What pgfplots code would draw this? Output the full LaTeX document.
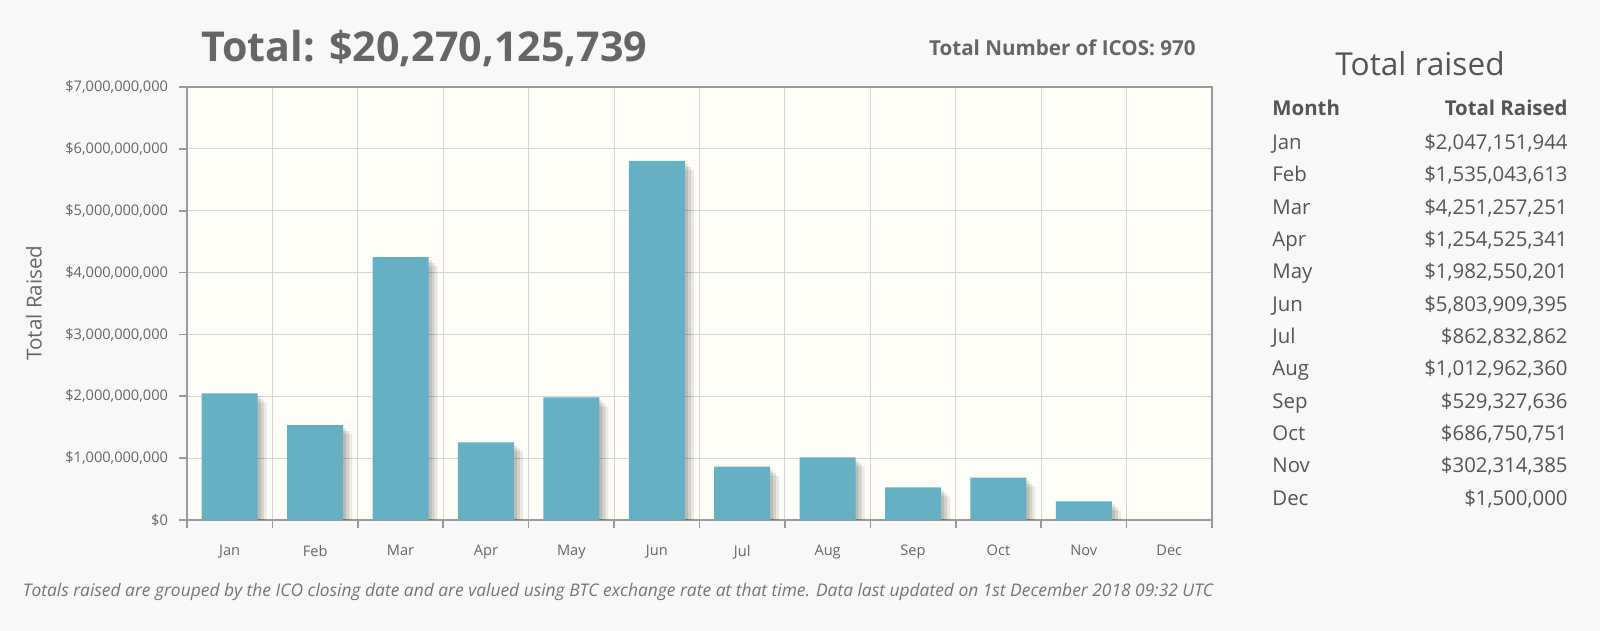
\documentclass[border=0pt]{standalone}
\usepackage{pgfplots}
\pgfplotsset{compat=1.18}
\usepackage{fontspec}
\setmainfont{Open Sans}
\definecolor{pagebg}{HTML}{F8F8F8}
\definecolor{plotbg}{HTML}{FEFDF8}
\definecolor{barc}{HTML}{66B0C4}
\definecolor{txt}{HTML}{666666}
\definecolor{tbl}{HTML}{555555}
\definecolor{gridc}{HTML}{D4D4D4}
\definecolor{axc}{HTML}{9A9A9A}
\begin{document}
\begin{tikzpicture}[x=1pt,y=1pt]
\fill[pagebg] (0,0) rectangle (800,315.5);
\useasboundingbox (0,0) rectangle (800,315.5);
\begin{axis}[
  at={(93.5pt,55.5pt)}, anchor=south west,
  scale only axis, width=512.5pt, height=216.5pt,
  xmin=-0.5, xmax=11.5, ymin=0, ymax=7000000000,
  axis background/.style={fill=plotbg},
  ybar, bar width=0.655,
  xtick={0,1,2,3,4,5,6,7,8,9,10,11},
  xticklabels={Jan,Feb,Mar,Apr,May,Jun,Jul,Aug,Sep,Oct,Nov,Dec},
  major x tick style={draw=none},
  minor xtick={-0.5,0.5,1.5,2.5,3.5,4.5,5.5,6.5,7.5,8.5,9.5,10.5,11.5},
  minor x tick style={axc, line width=0.8pt},
  minor tick length=4pt,
  xminorgrids,
  ytick={0,1000000000,2000000000,3000000000,4000000000,5000000000,6000000000,7000000000},
  yticklabels={\$0,{\$1,000,000,000},{\$2,000,000,000},{\$3,000,000,000},{\$4,000,000,000},{\$5,000,000,000},{\$6,000,000,000},{\$7,000,000,000}},
  ymajorgrids,
  major y tick style={axc, line width=0.8pt},
  major tick length=4pt,
  tick align=outside,
  tick pos=left,
  grid style={gridc, line width=0.55pt},
  axis line style={axc, line width=1.3pt},
  ticklabel style={font=\fontsize{7.3}{9}\selectfont, text=txt},
  xticklabel style={yshift=-5pt},
  yticklabel style={xshift=-2pt},
  scaled y ticks=false,
]
\addplot[fill=black, fill opacity=0.10, draw=none, bar shift=1.5pt, yshift=-1.5pt, forget plot]
 coordinates {
 (0,2047151944) (1,1535043613) (2,4251257251) (3,1254525341)
 (4,1982550201) (5,5803909395) (6,862832862) (7,1012962360)
 (8,529327636) (9,686750751) (10,302314385) (11,1500000)
 };
\addplot[fill=black, fill opacity=0.10, draw=none, bar shift=3pt, yshift=-3pt, forget plot]
 coordinates {
 (0,2047151944) (1,1535043613) (2,4251257251) (3,1254525341)
 (4,1982550201) (5,5803909395) (6,862832862) (7,1012962360)
 (8,529327636) (9,686750751) (10,302314385) (11,1500000)
 };
\addplot[fill=black, fill opacity=0.08, draw=none, bar shift=4.5pt, yshift=-4.5pt, forget plot]
 coordinates {
 (0,2047151944) (1,1535043613) (2,4251257251) (3,1254525341)
 (4,1982550201) (5,5803909395) (6,862832862) (7,1012962360)
 (8,529327636) (9,686750751) (10,302314385) (11,1500000)
 };
\addplot[fill=barc, draw=none, bar shift=0pt]
 coordinates {
 (0,2047151944) (1,1535043613) (2,4251257251) (3,1254525341)
 (4,1982550201) (5,5803909395) (6,862832862) (7,1012962360)
 (8,529327636) (9,686750751) (10,302314385) (11,1500000)
 };
\end{axis}
% titles
\node[anchor=west, inner sep=0pt, text=txt, font=\bfseries\fontsize{20.6}{24}\selectfont] at (100.5,291) {Total: \$20,270,125,739};
\node[anchor=east, inner sep=0pt, text=txt, font=\bfseries\fontsize{10.3}{12}\selectfont] at (598,291.5) {Total Number of ICOS: 970};
\node[rotate=90, inner sep=0pt, text=txt, font=\fontsize{10.3}{12}\selectfont] at (17,164) {Total Raised};
\node[anchor=west, inner sep=0pt, text=txt!90, font=\itshape\fontsize{8.7}{11}\selectfont] at (11.25,19.5) {Totals raised are grouped by the ICO closing date and are valued using BTC exchange rate at that time. Data last updated on 1st December 2018 09:32 UTC};
% table
\node[inner sep=0pt, text=tbl, font=\fontsize{15.8}{18}\selectfont] at (710,283.5) {Total raised};
\tikzset{tb/.style={inner sep=0pt, text height=7.3pt, text depth=0pt, text=tbl, font=\fontsize{10.2}{12}\selectfont}}
\node[tb, anchor=west, font=\bfseries\fontsize{10.2}{12}\selectfont] at (636,261.5) {Month};
\node[tb, anchor=east, font=\bfseries\fontsize{10.2}{12}\selectfont] at (784,261.5) {Total Raised};
\node[tb, anchor=west] at (636,244.5) {Jan}; \node[tb, anchor=east] at (784,244.5) {\$2,047,151,944};
\node[tb, anchor=west] at (636,228.3) {Feb}; \node[tb, anchor=east] at (784,228.3) {\$1,535,043,613};
\node[tb, anchor=west] at (636,212.1) {Mar}; \node[tb, anchor=east] at (784,212.1) {\$4,251,257,251};
\node[tb, anchor=west] at (636,196.0) {Apr}; \node[tb, anchor=east] at (784,196.0) {\$1,254,525,341};
\node[tb, anchor=west] at (636,179.8) {May}; \node[tb, anchor=east] at (784,179.8) {\$1,982,550,201};
\node[tb, anchor=west] at (636,163.6) {Jun}; \node[tb, anchor=east] at (784,163.6) {\$5,803,909,395};
\node[tb, anchor=west] at (636,147.4) {Jul}; \node[tb, anchor=east] at (784,147.4) {\$862,832,862};
\node[tb, anchor=west] at (636,131.2) {Aug}; \node[tb, anchor=east] at (784,131.2) {\$1,012,962,360};
\node[tb, anchor=west] at (636,115.1) {Sep}; \node[tb, anchor=east] at (784,115.1) {\$529,327,636};
\node[tb, anchor=west] at (636,98.9) {Oct}; \node[tb, anchor=east] at (784,98.9) {\$686,750,751};
\node[tb, anchor=west] at (636,82.7) {Nov}; \node[tb, anchor=east] at (784,82.7) {\$302,314,385};
\node[tb, anchor=west] at (636,66.5) {Dec}; \node[tb, anchor=east] at (784,66.5) {\$1,500,000};
\end{tikzpicture}
\end{document}
